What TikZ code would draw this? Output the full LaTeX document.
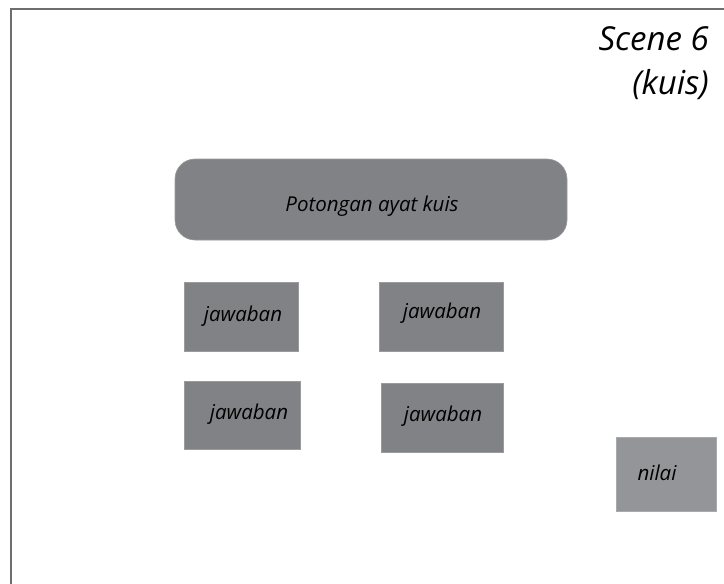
\documentclass[tikz,border=0pt]{standalone}
\usepackage{fontspec}
\setmainfont{Open Sans}
\begin{document}
\begin{tikzpicture}[x=1pt,y=-1pt,
  box/.style={fill=boxgray, draw=boxgray!80!white, line width=0.6pt, inner sep=0pt},
  lbl/.style={font=\itshape\fontsize{20.5}{24}\selectfont, text=black}]
\definecolor{boxgray}{HTML}{808285}
\definecolor{lightgray2}{HTML}{939598}
\definecolor{framegray}{HTML}{6D6E71}
\useasboundingbox (0,0) rectangle (724,584);
\draw[framegray, line width=2pt] (740,9) -- (11,9) -- (11,600);
% top rounded box
\draw[box, rounded corners=20pt] (175,159) rectangle (567,240);
\node[lbl] (title) at (372,206) {Potongan ayat kuis};
% answer boxes
\draw[box] (184,282) rectangle (298,351);
\node[lbl] (j1) at (243,316) {jawaban};
\draw[box] (379,282) rectangle (503,351);
\node[lbl] (j2) at (442,313) {jawaban};
\draw[box] (184,381) rectangle (300,449);
\node[lbl] (j3) at (249,414) {jawaban};
\draw[box] (381,383) rectangle (503,452);
\node[lbl] (j4) at (443,416) {jawaban};
% nilai
\draw[box, fill=lightgray2, draw=lightgray2!80!white] (616,437) rectangle (716,511);
\node[lbl] (nilai) at (657,473) {nilai};
% scene label
\node[font=\itshape\fontsize{33}{44}\selectfont, text=black, align=right, anchor=north east, inner sep=0pt] (scene) at (709,26) {Scene 6\\(kuis)};
\end{tikzpicture}
\end{document}
